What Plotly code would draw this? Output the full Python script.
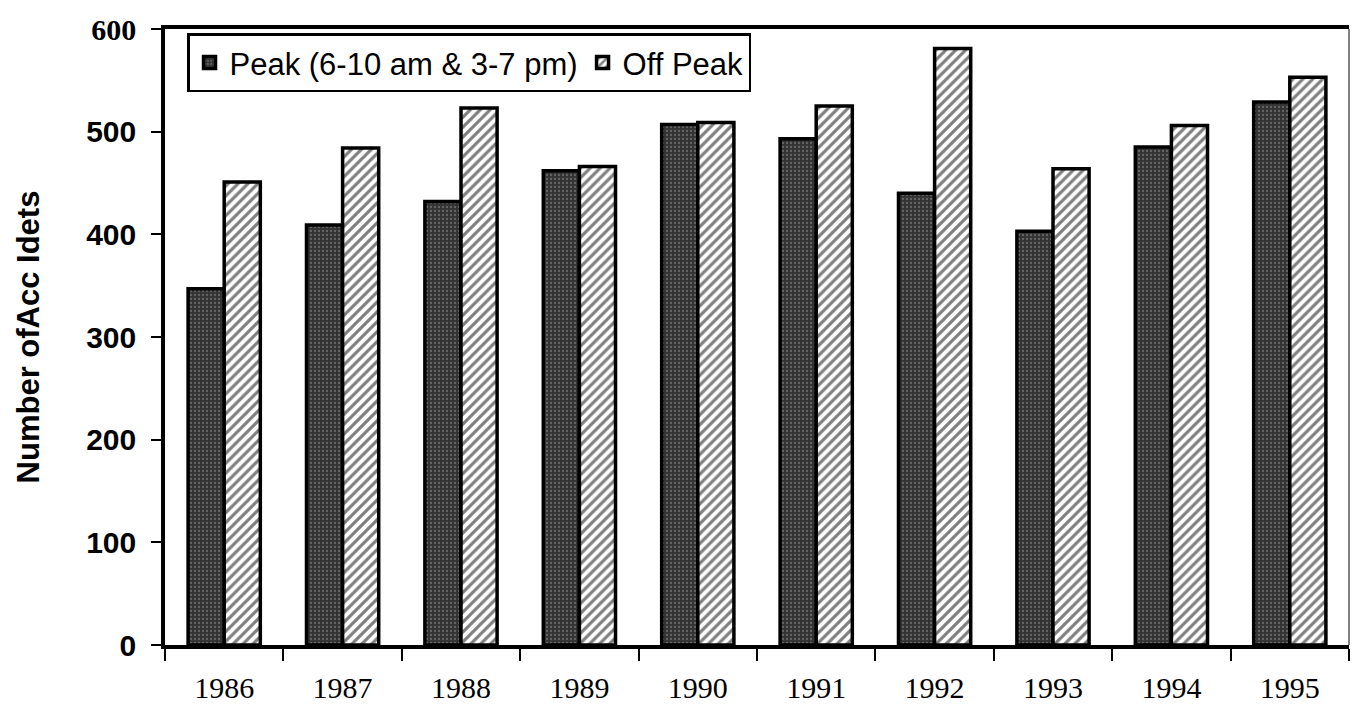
import plotly.graph_objects as go

years = ["1986", "1987", "1988", "1989", "1990", "1991", "1992", "1993", "1994", "1995"]
peak = [347, 409, 432, 462, 507, 493, 440, 403, 485, 529]
off_peak = [451, 484, 523, 466, 509, 525, 581, 464, 506, 553]
y_ticks = [0, 100, 200, 300, 400, 500, 600]
y_ticktext = ["0", "100", "200", "300", "400", "500",
              '<span style="font-family:Times New Roman, serif">600</span>']

fig = go.Figure()
fig.add_trace(go.Bar(
    x=years, y=peak, name="Peak (6-10 am & 3-7 pm)",
    marker=dict(color="#3a3a3a",
                line=dict(color="black", width=3.5),
                pattern=dict(shape=".", fgcolor="#9a9a9a", bgcolor="#333333",
                             size=4, solidity=0.25)),
))
fig.add_trace(go.Bar(
    x=years, y=off_peak, name="Off Peak",
    marker=dict(color="white",
                line=dict(color="black", width=3.5),
                pattern=dict(shape="/", fgcolor="black", bgcolor="white",
                             size=7, solidity=0.45)),
))

fig.update_layout(
    width=1352, height=707,
    margin=dict(l=165, r=3, t=29, b=62, autoexpand=False),
    paper_bgcolor="white", plot_bgcolor="white",
    barmode="group", bargap=0.39, bargroupgap=0.0,
    font=dict(family="Liberation Sans", color="black"),
    showlegend=True,
    legend=dict(orientation="h", x=0.0186, y=0.993, xanchor="left", yanchor="top",
                bgcolor="white", bordercolor="black", borderwidth=2.5,
                font=dict(family="Liberation Sans", size=31, color="black"),
                itemwidth=30, tracegroupgap=0, traceorder="normal"),
    xaxis=dict(
        automargin=False,
        showline=True, linecolor="black", linewidth=3.5, mirror=True,
        ticks="outside", tickson="boundaries", ticklen=12, tickwidth=1.5,
        tickcolor="black", showgrid=False,
        tickfont=dict(family="Liberation Serif", size=30, color="black"),
        ticklabelstandoff=13,
    ),
    yaxis=dict(
        automargin=False,
        range=[0, 600], tickvals=y_ticks, ticktext=y_ticktext,
        showline=True, linecolor="black", linewidth=3.5,
        ticks="outside", ticklen=10, tickwidth=1.5, tickcolor="black",
        ticklabelstandoff=9,
        showgrid=False, zeroline=False,
        tickfont=dict(family="Liberation Sans", size=30, color="black", weight="bold"),
        title=dict(text="Number ofAcc Idets", standoff=38,
                   font=dict(family="Liberation Sans", size=31, color="black", weight="bold")),
    ),
    shapes=[dict(type="line", xref="paper", yref="paper", x0=1, x1=1, y0=0, y1=1,
                 line=dict(color="black", width=1))],
)

fig.write_html("out.html", config={"displayModeBar": False},
               post_script="document.body.style.margin='0';document.body.style.overflow='hidden';")
